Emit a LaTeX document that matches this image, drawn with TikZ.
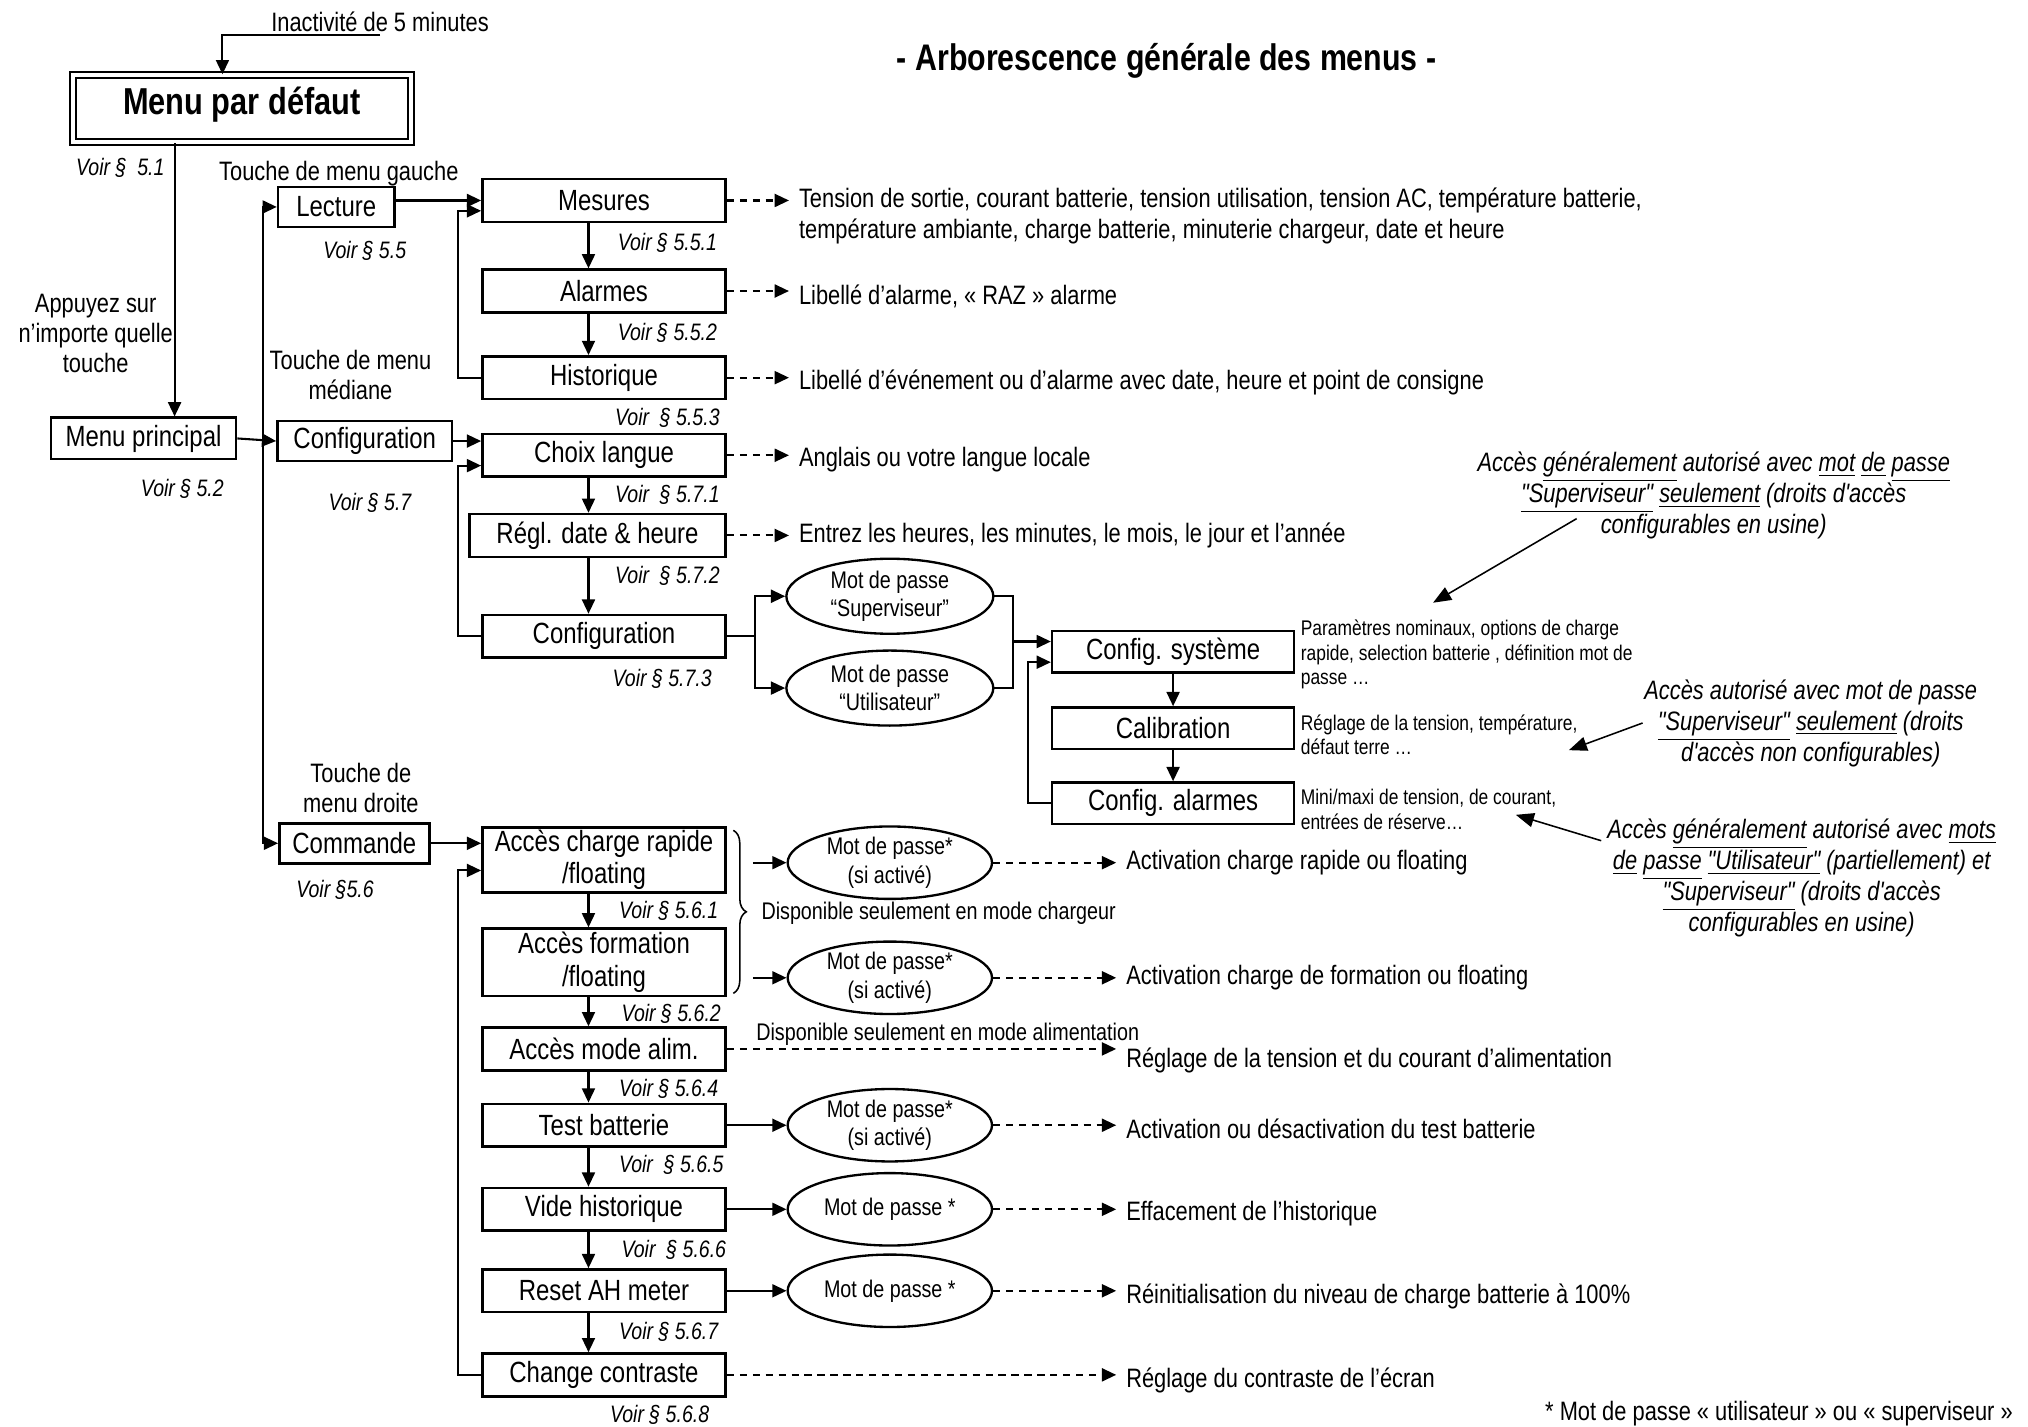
\documentclass[tikz,border=0pt]{standalone}
\usepackage{fontspec}
\setmainfont{Liberation Sans}[FakeStretch=0.82,Ligatures=TeXOff]
\usepackage{tikz}
\usetikzlibrary{arrows.meta,shapes.geometric,decorations.pathreplacing}
\tikzset{
  ar/.style={-{Triangle[length=5.5pt,width=5pt]}},
  dar/.style={ar,dash pattern=on 2.8pt off 2.2pt},
  na/.style={-{Triangle[length=7pt,width=5.5pt]},line width=0.6pt},
  box/.style={draw,line width=1pt,minimum width=94pt,minimum height=16.5pt,inner sep=1pt,align=center,font=\fontsize{11.3}{12.5}\selectfont},
  pw/.style={draw,ellipse,line width=0.9pt,minimum width=79pt,minimum height=28pt,inner sep=0pt,align=center,font=\fontsize{9.3}{11}\selectfont},
  voir/.style={inner sep=1pt,font=\itshape\fontsize{9.2}{10}\selectfont},
  txt/.style={anchor=west,inner sep=3.5pt,font=\fontsize{10.3}{11.5}\selectfont},
  sm/.style={anchor=west,align=left,inner sep=1pt,font=\fontsize{8.2}{9.5}\selectfont},
  note/.style={align=center,inner sep=1pt,font=\itshape\fontsize{10.3}{12}\selectfont}
}
\begin{document}
\begin{tikzpicture}[x=0.5pt,y=-0.5pt,line width=0.8pt]
\useasboundingbox (0,0) rectangle (1568,1103);
\fill[white] (0,0) rectangle (1568,1103);
\node[font=\bfseries\fontsize{14.3}{16}\selectfont] (titre) at (902,47) {- Arborescence générale des menus -};

\node[box,double,double distance=1.6pt,line width=0.8pt,minimum width=130.8pt,minimum height=25.8pt,text depth=6pt,font=\bfseries\fontsize{14.5}{16}\selectfont] (defaut) at (187,84) {Menu par défaut};
\node[txt,anchor=south west,inner sep=1pt] (inact) at (207,27) {Inactivité de 5 minutes};
\draw[ar] (inact.south) -| ([xshift=-7.5pt]defaut.north);

\node[box,minimum width=71.5pt,minimum height=16pt] (princ) at (111,339) {Menu principal};
\node[box,minimum width=45pt,minimum height=15.5pt] (lect) at (260,160) {Lecture};
\node[box,minimum width=67.5pt,minimum height=15.5pt] (conf) at (282,341) {Configuration};
\node[box,minimum width=58pt,minimum height=15.5pt] (cmd) at (274,652) {Commande};
\coordinate (top) at ([xshift=12pt]princ.north);
\draw[ar] (defaut.south -| top) -- (top);
\node[txt,anchor=center,align=center] (appuy) at (74,258) {Appuyez sur\\n’importe quelle\\touche};
\node[txt,anchor=center] (tg) at (262,134) {Touche de menu gauche};
\node[txt,anchor=center,align=center] (tm) at (271,290) {Touche de menu\\médiane};
\node[txt,anchor=center,align=center] (td) at (279,609) {Touche de\\menu droite};

\coordinate (bus) at (203,341);
\draw[ar] (princ.east) -- (conf.west);
\draw[ar] (bus) |- (lect.west);
\draw[ar] (bus) |- (cmd.west);

\foreach \n/\y/\lab in {mes/155/Mesures,alm/225/Alarmes,hist/292/Historique,lang/352/Choix langue,cfg/492/Configuration,alim/811/Accès mode alim.,test/870/Test batterie,vide/935/Vide historique,reset/998/Reset AH meter,contr/1063/Change contraste}
  \node[box] (\n) at (467,\y) {\lab};
\node[box,minimum width=99pt] (date) at (462,414) {Régl. date \& heure};
\node[box,minimum height=25pt] (rap) at (467,665) {Accès charge rapide\\/floating};
\node[box,minimum height=26pt] (form) at (467,744) {Accès formation\\/floating};

\coordinate (ax) at (455,0);
\foreach \a/\b in {mes/alm,alm/hist,lang/date,date/cfg,rap/form,form/alim,alim/test,test/vide,vide/reset,reset/contr}
  \draw[ar] (\a.south -| ax) -- (\b.north -| ax);

\draw[ar] (lect.east |- mes.west) -- (mes.west);
\draw[ar] (hist.west) -- ++(-18,0) |- ([yshift=-4pt]mes.west);
\draw[ar] (conf.east) -- (conf.east -| lang.west);
\draw[ar] (cfg.west) -- ++(-18,0) |- ([yshift=-4pt]lang.west);
\draw[ar] (cmd.east) -- (cmd.east -| rap.west);
\draw[ar] (contr.west) -- ++(-18,0) |- ([yshift=-4pt]rap.west);

\node[txt] (mesd) at (610,155) {Tension de sortie, courant batterie, tension utilisation, tension AC, température batterie,};
\node[txt] (mesd2) at (610,179) {température ambiante, charge batterie, minuterie chargeur, date et heure};
\node[txt] (almd) at (610,229) {Libellé d’alarme, « RAZ » alarme};
\node[txt] (histd) at (610,296) {Libellé d’événement ou d’alarme avec date, heure et point de consigne};
\node[txt] (langd) at (610,355) {Anglais ou votre langue locale};
\node[txt] (dated) at (610,414) {Entrez les heures, les minutes, le mois, le jour et l’année};
\foreach \n/\d in {mes/mesd,alm/almd,hist/histd,lang/langd,date/dated}
  \draw[dar] (\n.east) -- (\n.east -| \d.west);

\node[pw,minimum width=80pt,minimum height=29pt] (sup) at (688,461) {Mot de passe\\“Superviseur”};
\node[pw,minimum width=80pt,minimum height=29pt] (util) at (688,532) {Mot de passe\\“Utilisateur”};
\draw (cfg.east) -- ++(22,0) coordinate (sp);
\draw[ar] (sp) |- (sup.west);
\draw[ar] (sp) |- (util.west);

\foreach \n/\y/\lab in {sys/504/Config. système,calib/563/Calibration,calm/621/Config. alarmes}
  \node[box,minimum width=93.5pt,minimum height=16pt] (\n) at (907,\y) {\lab};
\coordinate (jn) at (783,496);
\draw (sup.east) -| (jn |- util.east) -- (util.east);
\draw[ar] (jn) -- (jn -| sys.west);
\draw[ar] (sys.south) -- (calib.north);
\draw[ar] (calib.south) -- (calm.north);
\draw[ar] (calm.west) -- ++(-18,0) |- ([yshift=-4pt]sys.west);

\node[sm] (sysd) at (1003,506) {Paramètres nominaux, options de charge\\rapide, selection batterie , définition mot de\\passe …};
\node[sm] (calibd) at (1003,568) {Réglage de la tension, température,\\défaut terre …};
\node[sm] (calmd) at (1003,626) {Mini/maxi de tension, de courant,\\entrées de réserve…};

\node[note] (n1) at (1325,383) {Accès \underline{généralement} autorisé avec \underline{mot} \underline{de} \underline{passe}\\\underline{"Superviseur"} \underline{seulement} (droits d'accès\\configurables en usine)};
\node[note] (n2) at (1400,559) {Accès autorisé avec mot de passe\\\underline{"Superviseur"} \underline{seulement} (droits\\d'accès non configurables)};
\node[note] (n3) at (1393,679) {Accès \underline{généralement} autorisé avec \underline{mots}\\\underline{de} \underline{passe} \underline{"Utilisateur"} (partiellement) et\\\underline{"Superviseur"} (droits d'accès\\configurables en usine)};
\coordinate (n1a) at (1219,401); \coordinate (n1b) at (1108,466);
\coordinate (n2a) at (1270,559); \coordinate (n2b) at (1213,580);
\coordinate (n3a) at (1238,650); \coordinate (n3b) at (1172,630);
\draw[na] (n1a) -- (n1b);
\draw[na] (n2a) -- (n2b);
\draw[na] (n3a) -- (n3b);

\draw[decorate,decoration={brace,amplitude=5pt},line width=0.6pt] (567,642) -- (567,768);
\node[anchor=west,inner sep=1pt,font=\fontsize{9.3}{11}\selectfont] (dispc) at (586,706) {Disponible seulement en mode chargeur};
\node[anchor=west,inner sep=1pt,font=\fontsize{9.3}{11}\selectfont] (dispa) at (582,800) {Disponible seulement en mode alimentation};
\coordinate (br1) at (582,667);
\coordinate (br2) at (582,756);
\node[pw] (p1) at (688,667) {Mot de passe*\\(si activé)};
\node[pw] (p2) at (688,756) {Mot de passe*\\(si activé)};
\node[pw] (p3) at (688,870) {Mot de passe*\\(si activé)};
\node[pw] (p4) at (688,935) {Mot de passe *};
\node[pw] (p5) at (688,998) {Mot de passe *};
\draw[ar] (br1) -- (p1.west);
\draw[ar] (br2) -- (p2.west);
\draw[ar] (test.east) -- (p3.west);
\draw[ar] (vide.east) -- (p4.west);
\draw[ar] (reset.east) -- (p5.west);

\node[txt] (d1) at (863,667) {Activation charge rapide ou floating};
\node[txt] (d2) at (863,756) {Activation charge de formation ou floating};
\node[txt] (d3) at (863,820) {Réglage de la tension et du courant d’alimentation};
\node[txt] (d4) at (863,873) {Activation ou désactivation du test batterie};
\node[txt] (d5) at (863,938) {Effacement de l’historique};
\node[txt] (d6) at (863,1002) {Réinitialisation du niveau de charge batterie à 100\%};
\node[txt] (d7) at (863,1067) {Réglage du contraste de l’écran};
\foreach \n/\d in {p1/d1,p2/d2,alim/d3,p3/d4,p4/d5,p5/d6,contr/d7}
  \draw[dar] (\n.east) -- (\n.east -| \d.west);
\node[txt,anchor=east] (foot) at (1564,1093) {* Mot de passe « utilisateur » ou « superviseur »};

\foreach \x/\y/\lab [count=\i] in {93/130/§\ \ 5.1,282/194/§ 5.5,141/378/§ 5.2,286/389/§ 5.7,259/688/§5.6,516/188/§ 5.5.1,516/257/§ 5.5.2,516/323/\ § 5.5.3,516/383/\ § 5.7.1,516/445/\ § 5.7.2,512/525/§ 5.7.3,517/704/§ 5.6.1,519/784/§ 5.6.2,517/842/§ 5.6.4,519/901/\ § 5.6.5,521/966/\ § 5.6.6,517/1030/§ 5.6.7,510/1094/§ 5.6.8}
  \node[voir] (voir\i) at (\x,\y) {Voir \lab};
\end{tikzpicture}
\end{document}
